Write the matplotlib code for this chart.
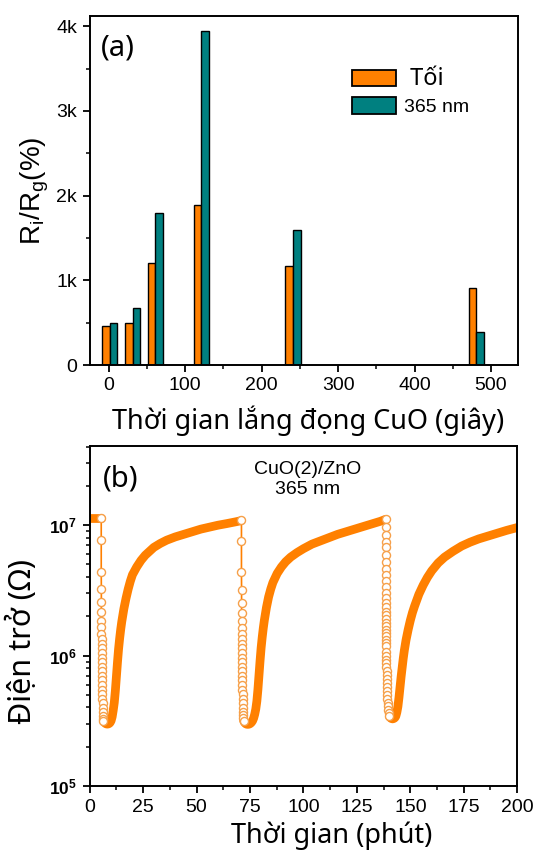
import matplotlib
matplotlib.use("Agg")
import matplotlib.pyplot as plt
import numpy as np
from matplotlib.ticker import MultipleLocator, FixedLocator, FixedFormatter, LogLocator, NullFormatter

plt.rcParams['mathtext.fontset'] = 'custom'
plt.rcParams['mathtext.rm'] = 'Liberation Sans'
plt.rcParams['mathtext.bf'] = 'Liberation Sans:bold'
plt.rcParams['mathtext.it'] = 'Liberation Sans:italic'

# ---------------- Panel (a) data ----------------
dep_time = [0, 30, 60, 120, 240, 480]           # CuO deposition time (s)
dark_vals = [460, 500, 1210, 1890, 1170, 910]   # Tối
uv_vals = [500, 670, 1790, 3940, 1590, 390]     # 365 nm
ytick_vals_a = [0, 1000, 2000, 3000, 4000]
ytick_labels_a = ['0', '1k', '2k', '3k', '4k']
legend_labels = [' Tối', '365 nm']

# ---------------- Panel (b) data (time in minutes, log10 of resistance in ohm) ----------------
band0_t = [0, 1, 2, 3, 4, 5, 5.4]
band0_log = [7.056, 7.056, 7.056, 7.056, 7.056, 7.056, 7.056]

drop1_t = [5.4, 5.4, 5.4, 5.45, 5.45, 5.45, 5.5, 5.5, 5.5, 5.55, 5.55, 5.6, 5.6, 5.65, 5.65,
           5.7, 5.7, 5.75, 5.8, 5.8, 5.85, 5.9, 5.95, 6.0, 6.05, 6.1, 6.2, 6.3, 6.4]
drop1_log = [7.056, 6.885, 6.641, 6.513, 6.41, 6.333, 6.269, 6.218, 6.167, 6.128,
             6.09, 6.055, 6.02, 5.985, 5.95, 5.915, 5.88, 5.845, 5.81, 5.775,
             5.74, 5.705, 5.67, 5.635, 5.60, 5.57, 5.54, 5.515, 5.50]

band1_t = [6.4, 7.0, 7.5, 8.0, 8.5, 9.0, 9.5, 10, 10.5, 11, 11.5, 12, 12.5, 13, 13.5, 14, 14.5,
           15, 15.5, 16, 17, 18, 19, 20, 22, 24, 26, 28, 30, 33, 36, 40, 44, 48, 52, 56, 60,
           64, 68, 70.9]
band1_log = [5.50, 5.485, 5.478, 5.475, 5.475, 5.478, 5.485, 5.50, 5.53, 5.58, 5.64, 5.73,
             5.84, 5.95, 6.05, 6.13, 6.20, 6.26, 6.31, 6.36, 6.44, 6.51, 6.57, 6.62, 6.68,
             6.73, 6.77, 6.80, 6.83, 6.86, 6.885, 6.91, 6.93, 6.95, 6.97, 6.985, 7.0, 7.012,
             7.025, 7.035]

drop2_t = [71.0, 71.0, 71.0, 71.05, 71.05, 71.05, 71.1, 71.1, 71.1, 71.15, 71.15, 71.2, 71.2,
           71.25, 71.25, 71.3, 71.3, 71.35, 71.4, 71.4, 71.45, 71.5, 71.55, 71.6, 71.65, 71.7,
           71.8, 71.9, 72.0]
drop2_log = [7.038, 6.877, 6.641, 6.50, 6.405, 6.328, 6.262, 6.21, 6.167, 6.128,
             6.09, 6.055, 6.02, 5.985, 5.95, 5.915, 5.88, 5.845, 5.81, 5.775,
             5.74, 5.705, 5.67, 5.635, 5.60, 5.57, 5.545, 5.52, 5.50]

band2_t = [72.0, 72.4, 72.8, 73.2, 73.7, 74.2, 74.7, 75.2, 75.7, 76.2, 76.7, 77.2, 77.7, 78.2,
           78.7, 79.2, 79.7, 80.2, 80.7, 81.2, 81.7, 82.7, 83.7, 84.7, 85.7, 87.7, 89.7, 91.7,
           94, 97, 100, 104, 108, 112, 116, 120, 124, 128, 132, 136, 138.4]
band2_log = [5.50, 5.488, 5.48, 5.475, 5.473, 5.473, 5.475, 5.48, 5.488, 5.50, 5.52, 5.55,
             5.59, 5.65, 5.74, 5.85, 5.96, 6.06, 6.14, 6.21, 6.27, 6.37, 6.45, 6.51, 6.56,
             6.63, 6.68, 6.72, 6.755, 6.79, 6.82, 6.855, 6.88, 6.905, 6.93, 6.95, 6.97, 6.99,
             7.01, 7.03, 7.045]

drop3_t = [138.6, 138.6, 138.6, 138.6, 138.6, 138.6, 138.6, 138.6, 138.6, 138.6, 138.6, 138.6,
           138.6, 138.6, 138.65, 138.65, 138.65, 138.65, 138.65, 138.65, 138.65, 138.65, 138.65,
           138.65, 138.65, 138.65, 138.65, 138.7, 138.75, 138.8, 138.85, 138.9, 138.95, 139.0,
           139.05, 139.1, 139.15, 139.2, 139.3, 139.4, 139.5, 139.6, 139.8, 140.0]
drop3_log = [7.051, 6.987, 6.928, 6.872, 6.833, 6.774, 6.718, 6.667, 6.615, 6.569,
             6.526, 6.482, 6.441, 6.405, 6.372, 6.338, 6.308, 6.277, 6.251, 6.226,
             6.20, 6.174, 6.149, 6.123, 6.097, 6.072, 6.026, 6.0, 5.97, 5.94,
             5.91, 5.88, 5.85, 5.82, 5.79, 5.76, 5.73, 5.70, 5.67, 5.64,
             5.61, 5.58, 5.56, 5.54]

band3_t = [140.2, 140.7, 141.2, 141.7, 142.2, 142.7, 143.2, 143.7, 144.2, 144.7, 145.2, 145.7,
           146.2, 146.7, 147.2, 148, 149, 150, 151, 152, 154, 156, 158, 160, 163, 166, 170,
           174, 178, 182, 186, 190, 195, 200]
band3_log = [5.535, 5.522, 5.517, 5.515, 5.517, 5.522, 5.535, 5.565, 5.61, 5.68, 5.76, 5.84,
             5.91, 5.98, 6.04, 6.12, 6.20, 6.27, 6.33, 6.38, 6.47, 6.54, 6.60, 6.65, 6.71,
             6.755, 6.80, 6.84, 6.87, 6.895, 6.915, 6.935, 6.96, 6.982]

annot_lines = ['CuO(2)/ZnO', '365 nm']

# ---------------- Styles ----------------
ORANGE = '#FF8000'
TEAL = '#008080'
MK_EDGE = '#F6A04A'
TICK_FONT = 'Liberation Sans'
LABEL_FONT = 'Noto Sans'
W, H = 537, 852

fig = plt.figure(figsize=(W / 100, H / 100), dpi=100)

def style_axes(ax):
    for s in ax.spines.values():
        s.set_linewidth(1.4)
    ax.tick_params(which='major', direction='out', length=5, width=1.3, labelsize=14,
                   pad=4, top=False, right=False)
    ax.tick_params(which='minor', direction='out', length=3, width=1.1, top=False, right=False)
    for lab in ax.get_xticklabels() + ax.get_yticklabels():
        lab.set_fontfamily(TICK_FONT)

# ---------------- Panel (a) ----------------
ax1 = fig.add_axes([89.7 / W, 1 - 365 / H, 428 / W, 349 / H])
bw = 10
x = np.array(dep_time, dtype=float)
b1 = ax1.bar(x - 4, dark_vals, width=bw, color=ORANGE, edgecolor='black', linewidth=1.0)
b2 = ax1.bar(x + 6, uv_vals, width=bw, color=TEAL, edgecolor='black', linewidth=1.0)
ax1.set_xlim(-25, 535)
ax1.set_ylim(0, 4120)
ax1.xaxis.set_major_locator(MultipleLocator(100))
ax1.xaxis.set_minor_locator(MultipleLocator(50))
ax1.yaxis.set_major_locator(FixedLocator(ytick_vals_a))
ax1.yaxis.set_major_formatter(FixedFormatter(ytick_labels_a))
ax1.yaxis.set_minor_locator(MultipleLocator(500))
style_axes(ax1)
ax1.set_xlabel('Thời gian lắng đọng CuO (giây)', fontfamily=LABEL_FONT, fontsize=19.5)
ax1.xaxis.set_label_coords(0.51, -0.117)
ax1.set_ylabel(r'R$_\mathregular{i}$/R$_\mathregular{g}$(%)', fontfamily=TICK_FONT, fontsize=20)
ax1.yaxis.set_label_coords(-0.09, 0.5)
ax1.text(0.026, 0.95, '(a)', transform=ax1.transAxes, ha='left', va='top',
         fontfamily=LABEL_FONT, fontsize=21)
leg = ax1.legend([b1, b2], legend_labels, loc='upper left', bbox_to_anchor=(0.614, 0.855),
                 frameon=False, prop={'family': TICK_FONT, 'size': 14}, handlelength=2.25,
                 handleheight=0.9, handletextpad=0.4, labelspacing=0.35, borderpad=0,
                 borderaxespad=0)
for h in leg.legend_handles:
    h.set_linewidth(1.3)
leg.get_texts()[0].set_fontfamily(LABEL_FONT)
leg.get_texts()[0].set_fontsize(17)

# ---------------- Panel (b) ----------------
ax2 = fig.add_axes([89.7 / W, 1 - 786 / H, 427.5 / W, 340 / H])
band_kw = dict(color=ORANGE, lw=6.3, solid_capstyle='round', solid_joinstyle='round', zorder=2)
for bt, bl in [(band0_t, band0_log), (band1_t, band1_log), (band2_t, band2_log), (band3_t, band3_log)]:
    ax2.plot(bt, 10 ** np.array(bl), **band_kw)
for dt, dl in [(drop1_t, drop1_log), (drop2_t, drop2_log), (drop3_t, drop3_log)]:
    ax2.plot(dt, 10 ** np.array(dl), color=ORANGE, lw=1.2, marker='o', ms=5.8,
             mfc='white', mec=MK_EDGE, mew=1.0, zorder=3)
ax2.set_yscale('log')
ax2.set_xlim(0, 200)
ax2.set_ylim(1e5, 4.05e7)
ax2.xaxis.set_major_locator(MultipleLocator(25))
ax2.xaxis.set_minor_locator(MultipleLocator(12.5))
ax2.yaxis.set_major_locator(FixedLocator([1e5, 1e6, 1e7]))
ax2.yaxis.set_major_formatter(FixedFormatter([r'$\mathbf{10^5}$', r'$\mathbf{10^6}$', r'$\mathbf{10^7}$']))
ax2.yaxis.set_minor_locator(LogLocator(base=10, subs=np.arange(2, 10), numticks=20))
ax2.yaxis.set_minor_formatter(NullFormatter())
style_axes(ax2)
ax2.tick_params(axis='y', which='major', labelsize=12.5)
ax2.set_xlabel('Thời gian (phút)', fontfamily=LABEL_FONT, fontsize=19.5)
ax2.xaxis.set_label_coords(0.565, -0.104)
ax2.set_ylabel('Điện trở (Ω)', fontfamily=LABEL_FONT, fontsize=22)
ax2.yaxis.set_label_coords(-0.12, 0.426)
ax2.text(0.03, 0.945, '(b)', transform=ax2.transAxes, ha='left', va='top',
         fontfamily=LABEL_FONT, fontsize=21)
ax2.text(102, 10 ** 7.35, '\n'.join(annot_lines), ha='center', va='center',
         fontfamily=TICK_FONT, fontsize=14, linespacing=1.2)

fig.savefig('out.png', dpi=100)
